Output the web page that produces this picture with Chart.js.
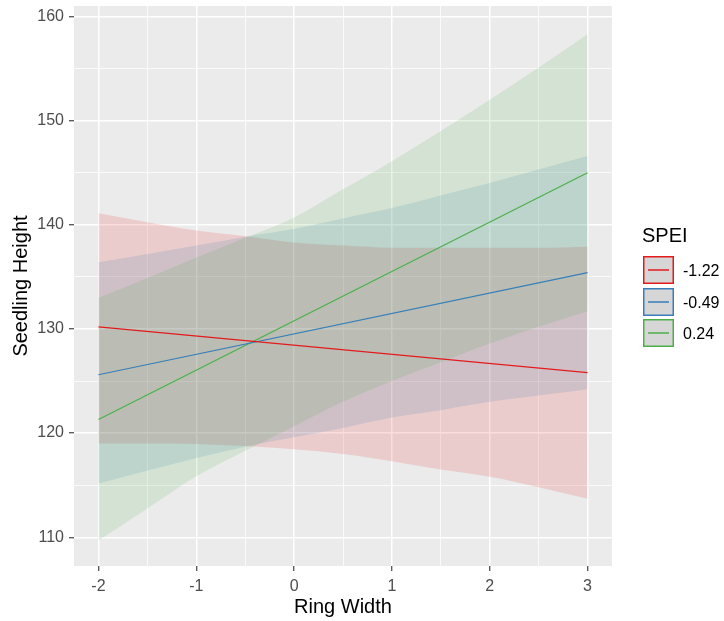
<!DOCTYPE html>
<html>
<head>
<meta charset="utf-8">
<script src="https://cdn.jsdelivr.net/npm/chart.js@4.4.1/dist/chart.umd.min.js"></script>
<style>
  html, body { margin: 0; padding: 0; background: #ffffff; }
  #wrap { position: relative; width: 724px; height: 621px; font-family: "Liberation Sans", Arial, sans-serif; }
  #c { position: absolute; left: 0; top: 0; }
  .lg-title { position: absolute; left: 642px; top: 225px; font-size: 20px; line-height: 20px; color: #000; }
  .lg-item { position: absolute; left: 643px; width: 81px; height: 28px; }
  .lg-item svg { position: absolute; left: 0; top: 0; }
  .lg-label { position: absolute; left: 40px; top: 6px; font-size: 16px; line-height: 18px; color: #000; }
</style>
</head>
<body>
<div id="wrap">
  <canvas id="c" width="724" height="621"></canvas>
  <div class="lg-title">SPEI</div>
  <div id="legend"></div>
</div>
<script>
// ---- data ----
const seriesNames = ["-1.22", "-0.49", "0.24"];
const seriesColors = ["#E41A1C", "#377EB8", "#4DAF4A"];

const lineX = [-2, 3];
const redLine = [130.2, 125.8];
const blueLine = [125.6, 135.4];
const greenLine = [121.3, 145.0];

const bandX = [-2, -1.5, -1, -0.5, 0, 0.5, 1, 1.5, 2, 2.5, 3];
const redUpper = [141.1, 140.25, 139.45, 138.9, 138.3, 138.0, 137.8, 137.8, 137.8, 137.8, 137.9];
const redLower = [119.0, 119.0, 118.95, 118.75, 118.45, 118.0, 117.3, 116.5, 115.8, 114.8, 113.7];
const blueUpper = [136.4, 137.2, 138.0, 138.85, 139.6, 140.6, 141.6, 142.8, 144.0, 145.3, 146.6];
const blueLower = [115.15, 116.4, 117.6, 118.7, 119.6, 120.5, 121.5, 122.2, 123.0, 123.6, 124.2];
const greenUpper = [133.0, 134.9, 136.85, 138.75, 140.7, 143.4, 146.1, 149.0, 152.0, 155.1, 158.3];
const greenLower = [109.7, 112.75, 115.85, 118.3, 120.65, 123.0, 125.0, 126.8, 128.6, 130.2, 131.7];

const xTicks = [-2, -1.5, -1, -0.5, 0, 0.5, 1, 1.5, 2, 2.5, 3];
const xLabeled = [-2, -1, 0, 1, 2, 3];
const yTicks = [110, 115, 120, 125, 130, 135, 140, 145, 150, 155, 160];
const yLabeled = [110, 120, 130, 140, 150, 160];
const xRange = [-2.25, 3.25];
const yRange = [107.24, 161.0];

// ---- helpers ----
const pts = (xs, ys) => xs.map((x, i) => ({ x: x, y: ys[i] }));
function rgba(hex, a) {
  const n = parseInt(hex.slice(1), 16);
  return `rgba(${(n >> 16) & 255},${(n >> 8) & 255},${n & 255},${a})`;
}
const bands = [[redLower, redUpper], [blueLower, blueUpper], [greenLower, greenUpper]];
const lines = [redLine, blueLine, greenLine];

const datasets = [];
bands.forEach((b, i) => {
  datasets.push({
    data: pts(bandX, b[0]), borderWidth: 0, pointRadius: 0, fill: false,
    cubicInterpolationMode: 'monotone', order: 10 - i * 2
  });
  datasets.push({
    data: pts(bandX, b[1]), borderWidth: 0, pointRadius: 0, fill: '-1',
    backgroundColor: rgba(seriesColors[i], 0.15),
    cubicInterpolationMode: 'monotone', order: 10 - i * 2
  });
});
lines.forEach((l, i) => {
  datasets.push({
    data: pts(lineX, l), borderColor: seriesColors[i], borderWidth: 1.2,
    pointRadius: 0, fill: false, order: 0
  });
});

const panelBg = {
  id: 'panelBg',
  beforeDraw(chart) {
    const a = chart.chartArea, ctx = chart.ctx;
    ctx.save();
    ctx.fillStyle = '#EBEBEB';
    ctx.fillRect(a.left, a.top, a.right - a.left, a.bottom - a.top);
    ctx.restore();
  }
};

const isMajor = (arr, v) => arr.some(t => Math.abs(t - v) < 1e-6);

new Chart(document.getElementById('c'), {
  type: 'line',
  data: { datasets: datasets },
  plugins: [panelBg],
  options: {
    responsive: false,
    animation: false,
    layout: { padding: { left: 0, right: 112, top: 6, bottom: 0 } },
    plugins: { legend: { display: false }, tooltip: { enabled: false } },
    scales: {
      x: {
        type: 'linear', min: xRange[0], max: xRange[1],
        afterBuildTicks: s => { s.ticks = xTicks.map(v => ({ value: v })); },
        afterFit: s => { s.height = 55; s.paddingLeft = 0; s.paddingRight = 0; },
        border: { display: false },
        grid: {
          color: '#FFFFFF',
          lineWidth: c => isMajor(xLabeled, c.tick.value) ? 1.5 : 0.75,
          tickColor: c => isMajor(xLabeled, c.tick.value) ? '#333333' : 'rgba(0,0,0,0)',
          tickLength: 5, tickWidth: 1.1
        },
        ticks: {
          autoSkip: false, maxRotation: 0, padding: 6,
          color: '#4D4D4D', font: { family: 'Liberation Sans', size: 16 },
          callback: v => isMajor(xLabeled, v) ? String(v) : ''
        },
        title: {
          display: true, text: 'Ring Width', color: '#000',
          font: { family: 'Liberation Sans', size: 20 }, padding: { top: 0, bottom: 2 }
        }
      },
      y: {
        type: 'linear', min: yRange[0], max: yRange[1],
        afterBuildTicks: s => { s.ticks = yTicks.map(v => ({ value: v })); },
        afterFit: s => { s.width = 74; s.paddingTop = 0; s.paddingBottom = 0; },
        border: { display: false },
        grid: {
          color: '#FFFFFF',
          lineWidth: c => isMajor(yLabeled, c.tick.value) ? 1.5 : 0.75,
          tickColor: c => isMajor(yLabeled, c.tick.value) ? '#333333' : 'rgba(0,0,0,0)',
          tickLength: 5, tickWidth: 1.1
        },
        ticks: {
          autoSkip: false, padding: 5,
          color: '#4D4D4D', font: { family: 'Liberation Sans', size: 16 },
          callback: v => isMajor(yLabeled, v) ? String(v) : ''
        },
        title: {
          display: true, text: 'Seedling Height', color: '#000',
          font: { family: 'Liberation Sans', size: 20 }, padding: { top: 9, bottom: 0 }
        }
      }
    }
  }
});

// ---- legend ----
const lg = document.getElementById('legend');
seriesNames.forEach((name, i) => {
  const item = document.createElement('div');
  item.className = 'lg-item';
  item.style.top = (256 + i * 31.5) + 'px';
  const c = seriesColors[i];
  item.innerHTML =
    `<svg width="32" height="29" viewBox="0 0 32 29">` +
    `<rect x="0.75" y="0.75" width="29.5" height="26.5" fill="#D6D6D6" stroke="${c}" stroke-width="1.5"/>` +
    `<line x1="5" y1="14" x2="26" y2="14" stroke="${c}" stroke-width="1.5"/>` +
    `</svg><div class="lg-label">${name}</div>`;
  lg.appendChild(item);
});
</script>
</body>
</html>
